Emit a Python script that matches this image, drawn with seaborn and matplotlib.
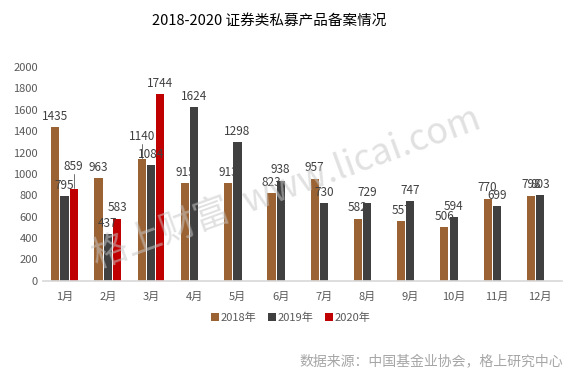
import matplotlib
matplotlib.use("Agg")
import matplotlib.pyplot as plt
import seaborn as sns
import pandas as pd
import numpy as np

months = [f"{i}月" for i in range(1, 13)]
years = ["2018年", "2019年", "2020年"]
v2018 = [1435, 963, 1140, 915, 913, 823, 957, 582, 557, 506, 770, 798]
v2019 = [795, 437, 1084, 1624, 1298, 938, 730, 729, 747, 594, 699, 803]
v2020 = [859, 583, 1744]
colors = ["#9B6333", "#404040", "#C00000"]

sns.set_theme(style="white")
plt.rcParams['font.family'] = ['Noto Sans CJK SC', 'DejaVu Sans']

rows = []
for yr, vals in zip(years, [v2018, v2019, v2020]):
    for m, v in zip(months, vals):
        rows.append({"month": m, "year": yr, "value": v})
df = pd.DataFrame(rows)

fig = plt.figure(figsize=(5.72, 3.77), dpi=100)
ax = fig.add_axes([0.075, 0.255, 0.907, 0.567])

# watermark sits behind the bars
fig.text(0.5, 0.50, "格上财富  www.licai.com", ha="center", va="center",
         fontsize=26, color="#C8C8C8", alpha=0.55, rotation=20, zorder=0)
ax.set_facecolor("none")

sns.barplot(data=df, x="month", y="value", hue="year", order=months,
            hue_order=years, palette=colors, width=0.64, gap=0.12,
            saturation=1, linewidth=0, ax=ax, legend=True)

ax.set_ylim(0, 2000)
ax.set_xlim(-0.5, 11.5)
ax.set_yticks(range(0, 2001, 200))
ax.tick_params(axis='both', labelsize=8, colors='#595959', length=0)
ax.tick_params(axis='x', pad=8)
ax.set_xlabel("")
ax.set_ylabel("")
for s in ["top", "right", "left"]:
    ax.spines[s].set_visible(False)
ax.spines["bottom"].set_color("#D9D9D9")

# labels that excel pushed up with a leader line
raised = {(0, 2), (2, 0)}
for k, cont in enumerate(ax.containers):
    for i, bar in enumerate(cont):
        h = bar.get_height()
        if np.isnan(h) or h == 0:
            continue
        x = bar.get_x() + bar.get_width() / 2
        off = 40
        if (i, k) in raised:
            off = 150
            ax.plot([x, x], [h + 10, h + 140], color="#595959", lw=0.6)
        ax.text(x, h + off, f"{int(h)}", ha="center", va="bottom",
                fontsize=8.5, color="#404040")

ax.legend(loc="upper center", bbox_to_anchor=(0.478, -0.1), ncol=3,
          frameon=False, fontsize=8, handlelength=0.7, handleheight=0.7,
          handletextpad=0.2, columnspacing=1.0, labelcolor="#595959")

fig.text(0.47, 0.945, "2018-2020 证券类私募产品备案情况", ha="center",
         va="center", fontsize=10.5, color="#000000")
fig.text(0.985, 0.04, "数据来源：中国基金业协会，格上研究中心", ha="right",
         va="center", fontsize=10, color="#A6A6A6")

fig.savefig("out.png", dpi=100)
